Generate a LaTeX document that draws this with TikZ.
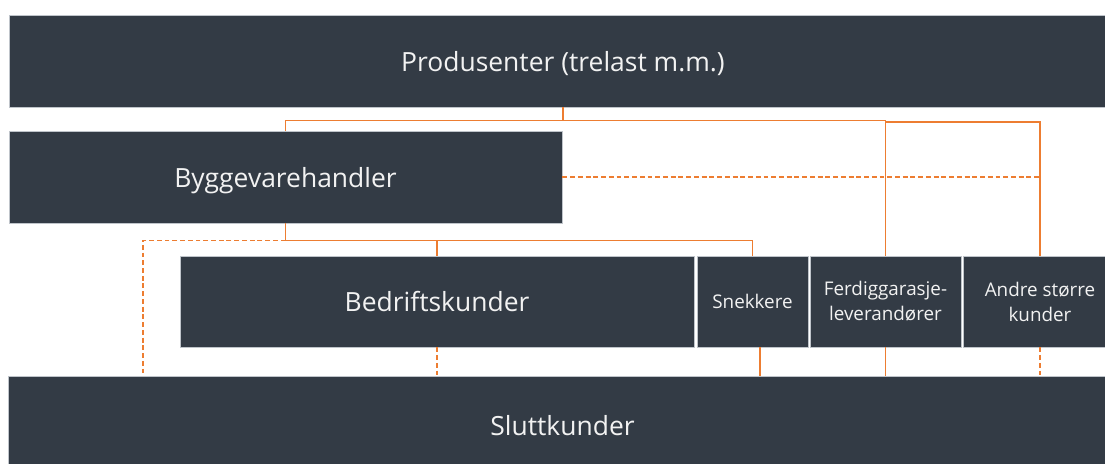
\documentclass[tikz,border=0pt]{standalone}
\usepackage{fontspec}
\setmainfont{Open Sans}
\newfontfamily\boxfont{Open Sans}
\usetikzlibrary{calc}
\definecolor{slate}{HTML}{333B45}
\definecolor{rim}{HTML}{BFC4CA}
\definecolor{flowor}{HTML}{ED7D31}

\begin{document}
\begin{tikzpicture} [x=0.025cm, y=-0.025cm,
  box/.style={fill=slate, draw=rim, line width=0.5pt, text=white!95!black, inner sep=0pt, text depth=0pt, font=\boxfont\fontsize{18.8}{22}\selectfont, minimum height=2.3cm},
  small/.style={box, align=center, text depth=, font=\boxfont\fontsize{13.4}{17.7}\selectfont},
  flow/.style={flowor, line width=1pt},
  flowdash/.style={flow, dash pattern=on 3.5pt off 2pt}]
\useasboundingbox (0,0) rectangle (1105,463);
\node[box, minimum width=27.7cm] (prod) at (563,61) {Produsenter (trelast m.m.)};
\node[box, minimum width=13.825cm] (bygg) at (285.5,177) {Byggevarehandler};
\node[box, minimum width=12.85cm, minimum height=2.275cm] (bedrift) at (437,301.5) {Bedriftskunder};
\node[small, minimum width=2.775cm, minimum height=2.275cm] (snekk) at (752.5,301.5) {Snekkere};
\node[small, minimum width=3.775cm, minimum height=2.275cm] (ferdig) at (885.5,301.5) {Ferdiggarasje-\\leverandører};
\node[small, minimum width=3.85cm, minimum height=2.275cm] (andre) at (1040,301.5) {Andre større\\kunder};
\node[box, minimum width=27.725cm, minimum height=2.45cm] (slutt) at (562.5,425) {Sluttkunder};
\coordinate (snekkX) at (760,0);
\coordinate (leftX) at (143,0);
% from the producers
\draw[flow] (prod.south) -- ++(0,13) coordinate (top);
\draw[flow] (bygg.north) |- (top) -| (ferdig.north);
\draw[flow] (ferdig.north |- top) ++(0,1.5) -| (andre.north);
\draw[flowdash] (bygg.east) -- (bygg.east -| andre.north);
% from the builders' merchants
\draw[flow] (bygg.south) -- ++(0,17) coordinate (mid) -| (snekk.north);
\draw[flow] (bedrift.north) -- (bedrift.north |- mid);
\draw[flowdash] (mid) -| (slutt.north -| leftX);
% on to the end customers
\draw[flowdash] (bedrift.south) -- (bedrift.south |- slutt.north);
\draw[flow] (snekk.south -| snekkX) -- (slutt.north -| snekkX);
\draw[flow] (ferdig.south) -- (slutt.north -| ferdig.south);
\draw[flowdash] (andre.south) -- (slutt.north -| andre.south);
\end{tikzpicture}
\end{document}
